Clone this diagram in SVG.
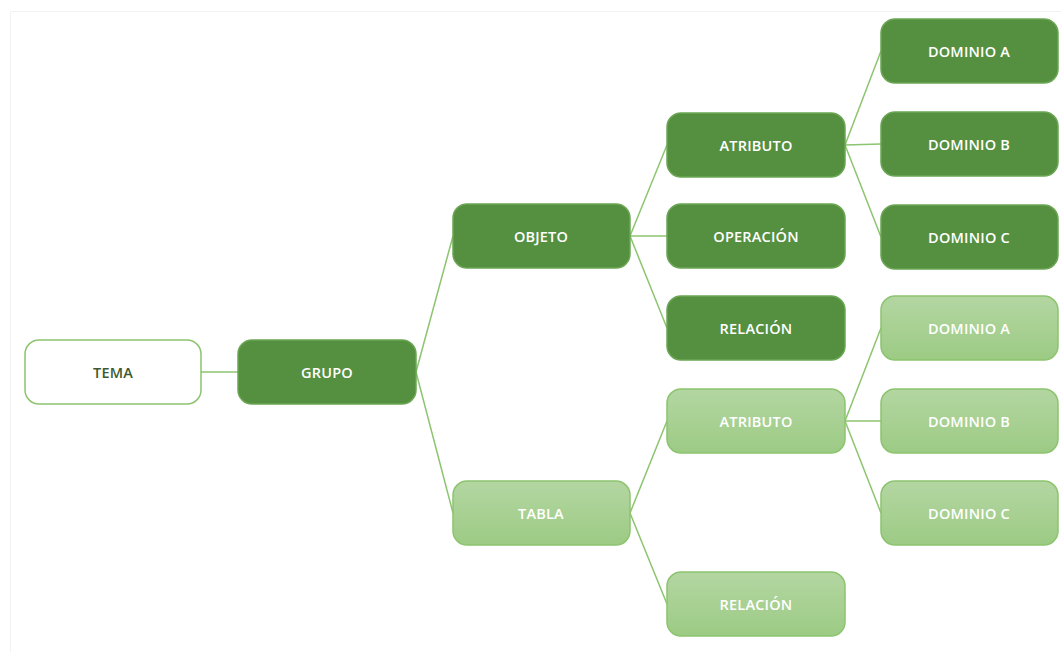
<svg xmlns="http://www.w3.org/2000/svg" width="1061" height="652" viewBox="0 0 1061 652">
<defs>
<linearGradient id="lg" x1="0" y1="0" x2="0" y2="1">
<stop offset="0" stop-color="#b4d6a2"/>
<stop offset="1" stop-color="#9ccb84"/>
</linearGradient>
<style>
.dark{fill:#558f40;stroke:#6aa653;stroke-width:1.5}
.light{fill:url(#lg);stroke:#8cc46f;stroke-width:1.5}
.white{fill:#ffffff;stroke:#8cc46f;stroke-width:1.5}
.t{font-family:"Open Sans","Liberation Sans",sans-serif;font-size:14.5px;font-weight:600;fill:#ffffff;text-anchor:middle;dominant-baseline:central;letter-spacing:0.2px}
.td{fill:#3d5a33}
.c line{stroke:#8cc46f;stroke-width:1.5}
</style>
</defs>
<rect width="1061" height="652" fill="#ffffff"/>
<path d="M10.5 652 V11.5 H1061" fill="none" stroke="#f2f2f2" stroke-width="1"/>
<g class="c" id="connectors">
<line x1="201" y1="372" x2="238" y2="372"/>
<line x1="416" y1="372" x2="453" y2="236"/>
<line x1="416" y1="372" x2="453" y2="513"/>
<line x1="630" y1="236" x2="667" y2="145"/>
<line x1="630" y1="236" x2="667" y2="236"/>
<line x1="630" y1="236" x2="667" y2="328"/>
<line x1="845" y1="145" x2="881" y2="51"/>
<line x1="845" y1="145" x2="881" y2="144"/>
<line x1="845" y1="145" x2="881" y2="237"/>
<line x1="630" y1="513" x2="667" y2="421"/>
<line x1="630" y1="513" x2="667" y2="604"/>
<line x1="845" y1="421" x2="881" y2="328"/>
<line x1="845" y1="421" x2="881" y2="421"/>
<line x1="845" y1="421" x2="881" y2="513"/>
</g>
<g id="tema"><rect class="white" x="25" y="340" width="176" height="64" rx="14"/><text class="t td" x="113" y="372">TEMA</text></g>
<g id="grupo"><rect class="dark" x="238" y="340" width="178" height="64" rx="14"/><text class="t" x="327" y="372">GRUPO</text></g>
<g id="objeto"><rect class="dark" x="453" y="204" width="177" height="64" rx="14"/><text class="t" x="541" y="236">OBJETO</text></g>
<g id="tabla"><rect class="light" x="453" y="481" width="177" height="64" rx="14"/><text class="t" x="541" y="513">TABLA</text></g>
<g id="atributo1"><rect class="dark" x="667" y="113" width="178" height="64" rx="14"/><text class="t" x="756" y="145">ATRIBUTO</text></g>
<g id="operacion"><rect class="dark" x="667" y="204" width="178" height="64" rx="14"/><text class="t" x="756" y="236">OPERACIÓN</text></g>
<g id="relacion1"><rect class="dark" x="667" y="296" width="178" height="64" rx="14"/><text class="t" x="756" y="328">RELACIÓN</text></g>
<g id="atributo2"><rect class="light" x="667" y="389" width="178" height="64" rx="14"/><text class="t" x="756" y="421">ATRIBUTO</text></g>
<g id="relacion2"><rect class="light" x="667" y="572" width="178" height="64" rx="14"/><text class="t" x="756" y="604">RELACIÓN</text></g>
<g id="dominioA1"><rect class="dark" x="881" y="19" width="177" height="64" rx="14"/><text class="t" x="969" y="51">DOMINIO A</text></g>
<g id="dominioB1"><rect class="dark" x="881" y="112" width="177" height="64" rx="14"/><text class="t" x="969" y="144">DOMINIO B</text></g>
<g id="dominioC1"><rect class="dark" x="881" y="205" width="177" height="64" rx="14"/><text class="t" x="969" y="237">DOMINIO C</text></g>
<g id="dominioA2"><rect class="light" x="881" y="296" width="177" height="64" rx="14"/><text class="t" x="969" y="328">DOMINIO A</text></g>
<g id="dominioB2"><rect class="light" x="881" y="389" width="177" height="64" rx="14"/><text class="t" x="969" y="421">DOMINIO B</text></g>
<g id="dominioC2"><rect class="light" x="881" y="481" width="177" height="64" rx="14"/><text class="t" x="969" y="513">DOMINIO C</text></g>
</svg>
